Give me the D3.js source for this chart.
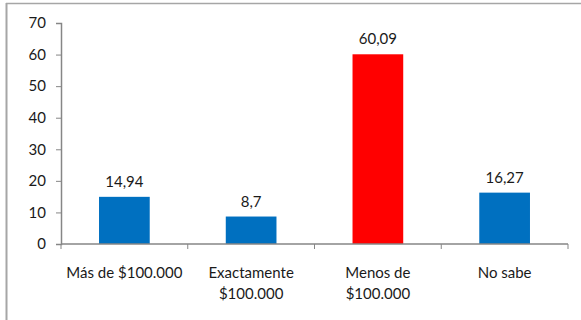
<!DOCTYPE html>
<html>
<head>
<meta charset="utf-8">
<script src="https://cdn.jsdelivr.net/npm/d3@7"></script>
<style>
  html, body { margin: 0; padding: 0; background: #fff; }
  svg { display: block; }
  text { font-family: Lato, "Open Sans", sans-serif; fill: #1a1a1a; }
</style>
</head>
<body>
<svg id="chart" width="581" height="320"></svg>
<script>
// Respuestas por categoría (porcentaje)
const categories = [["Más de $100.000"], ["Exactamente", "$100.000"], ["Menos de", "$100.000"], ["No sabe"]];
const values = [14.94, 8.7, 60.09, 16.27];
const valueLabels = ["14,94", "8,7", "60,09", "16,27"];
const barColors = ["#0070C0", "#0070C0", "#FF0000", "#0070C0"];
const yTicks = [0, 10, 20, 30, 40, 50, 60, 70];

const svg = d3.select("#chart");
const W = 581, H = 320;
const plot = { left: 61, right: 568, top: 23, bottom: 244 };
const fontSize = 15;

// Outer frame (top and left edges visible)
svg.append("line").attr("x1", 6).attr("x2", W).attr("y1", 3.5).attr("y2", 3.5)
  .attr("stroke", "#a6a6a6").attr("stroke-width", 1.5);
svg.append("line").attr("x1", 6.5).attr("x2", 6.5).attr("y1", 3).attr("y2", H)
  .attr("stroke", "#a6a6a6").attr("stroke-width", 2);

const x = d3.scaleBand()
  .domain(d3.range(values.length))
  .range([plot.left, plot.right])
  .paddingInner(0.6).paddingOuter(0.3);

const y = d3.scaleLinear().domain([0, 70]).range([plot.bottom, plot.top]);

// Bars
svg.selectAll("rect.bar").data(values).join("rect")
  .attr("class", "bar")
  .attr("x", (d, i) => x(i))
  .attr("width", x.bandwidth())
  .attr("y", d => y(d))
  .attr("height", d => y(0) - y(d))
  .attr("fill", (d, i) => barColors[i]);

// Value labels
svg.selectAll("text.val").data(values).join("text")
  .attr("class", "val")
  .attr("x", (d, i) => x(i) + x.bandwidth() / 2)
  .attr("y", d => y(d) - 10)
  .attr("text-anchor", "middle")
  .attr("font-size", fontSize)
  .text((d, i) => valueLabels[i]);

// Y axis
const yAxis = d3.axisLeft(y).tickValues(yTicks).tickSize(5).tickPadding(10).tickFormat(d3.format("d"));
const gy = svg.append("g").attr("transform", `translate(${plot.left},0)`).call(yAxis);
gy.select(".domain").attr("stroke", "#868686").attr("stroke-width", 1.5);
gy.selectAll(".tick line").attr("stroke", "#868686");
gy.selectAll(".tick text").attr("font-size", fontSize).attr("font-family", 'Lato, sans-serif').attr("fill", "#1a1a1a");

// X axis line with category dividers
const bandStep = (plot.right - plot.left) / values.length;
svg.append("line").attr("x1", plot.left).attr("x2", plot.right)
  .attr("y1", y(0)).attr("y2", y(0)).attr("stroke", "#868686").attr("stroke-width", 1.5);
svg.selectAll("line.xtick").data(d3.range(values.length + 1)).join("line")
  .attr("class", "xtick")
  .attr("x1", i => plot.left + i * bandStep).attr("x2", i => plot.left + i * bandStep)
  .attr("y1", y(0)).attr("y2", y(0) + 5)
  .attr("stroke", "#868686");

// Category labels
const catG = svg.selectAll("text.cat").data(categories).join("text")
  .attr("class", "cat")
  .attr("x", (d, i) => x(i) + x.bandwidth() / 2)
  .attr("y", 278)
  .attr("text-anchor", "middle")
  .attr("font-size", fontSize);
catG.selectAll("tspan").data(d => d).join("tspan")
  .attr("x", function () { return d3.select(this.parentNode).attr("x"); })
  .attr("dy", (d, j) => j === 0 ? 0 : 21)
  .text(d => d);
</script>
</body>
</html>
